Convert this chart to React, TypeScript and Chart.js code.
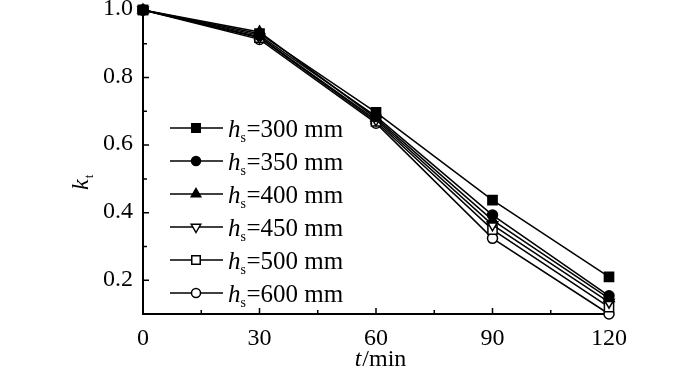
import React, { useEffect, useRef } from "react";
import { Chart, registerables } from "chart.js";

Chart.register(...registerables);

const times = [0, 30, 60, 90, 120];
const labels = ["300", "350", "400", "450", "500", "600"];
const s300 = [1.0, 0.93, 0.697, 0.437, 0.21];
const s350 = [1.0, 0.925, 0.685, 0.393, 0.154];
const s400 = [1.0, 0.935, 0.68, 0.378, 0.146];
const s450 = [1.0, 0.92, 0.675, 0.364, 0.135];
const s500 = [1.0, 0.918, 0.67, 0.35, 0.12];
const s600 = [1.0, 0.913, 0.665, 0.324, 0.1];
const yTicks = [0.2, 0.4, 0.6, 0.8, 1.0];
const yMinor = [0.3, 0.5, 0.7, 0.9];
const xTicks = [0, 30, 60, 90, 120];
const xMinor = [15, 45, 75, 105];

const FONT = "'Liberation Serif', 'Times New Roman', serif";

const markers = [
  { style: "rect", fill: "#000", radius: 6.5, rotation: 0 },
  { style: "circle", fill: "#000", radius: 5, rotation: 0 },
  { style: "triangle", fill: "#000", radius: 6, rotation: 0 },
  { style: "triangle", fill: "#fff", radius: 6, rotation: 180 },
  { style: "rect", fill: "#fff", radius: 6.5, rotation: 0 },
  { style: "circle", fill: "#fff", radius: 5, rotation: 0 },
];

const series = [s300, s350, s400, s450, s500, s600];

function drawPointLocal(ctx: CanvasRenderingContext2D, m: any, x: number, y: number) {
  const r = m.radius;
  ctx.beginPath();
  if (m.style === "circle") {
    ctx.arc(x, y, r, 0, Math.PI * 2);
  } else if (m.style === "rect") {
    const s = r * Math.SQRT1_2;
    ctx.rect(x - s, y - s, 2 * s, 2 * s);
  } else {
    const dir = m.rotation === 180 ? -1 : 1;
    ctx.moveTo(x, y - dir * r);
    ctx.lineTo(x + r * 0.866, y + dir * r * 0.5);
    ctx.lineTo(x - r * 0.866, y + dir * r * 0.5);
    ctx.closePath();
  }
  ctx.fill();
  ctx.stroke();
}

const axesPlugin = {
  id: "axesPlugin",
  beforeDatasetsDraw(chart: any) {
    const ctx = chart.ctx;
    const { left, right, top, bottom } = chart.chartArea;
    const xs = chart.scales.x;
    const ys = chart.scales.y;
    ctx.save();
    ctx.strokeStyle = "#000";
    ctx.lineWidth = 2;
    ctx.beginPath();
    ctx.moveTo(left, top - 2);
    ctx.lineTo(left, bottom);
    ctx.lineTo(right + 2, bottom);
    ctx.stroke();
    ctx.lineWidth = 1.5;
    ctx.beginPath();
    yTicks.forEach((v) => {
      const y = ys.getPixelForValue(v);
      ctx.moveTo(left, y);
      ctx.lineTo(left + 6, y);
    });
    yMinor.forEach((v) => {
      const y = ys.getPixelForValue(v);
      ctx.moveTo(left, y);
      ctx.lineTo(left + 4, y);
    });
    xTicks.forEach((v) => {
      const x = xs.getPixelForValue(v);
      ctx.moveTo(x, bottom);
      ctx.lineTo(x, bottom - 6);
    });
    xMinor.forEach((v) => {
      const x = xs.getPixelForValue(v);
      ctx.moveTo(x, bottom);
      ctx.lineTo(x, bottom - 4);
    });
    ctx.stroke();

    // tick labels
    ctx.fillStyle = "#000";
    ctx.font = `24px ${FONT}`;
    ctx.textAlign = "right";
    ctx.textBaseline = "middle";
    yTicks.forEach((v) => {
      ctx.fillText(v.toFixed(1), left - 10, ys.getPixelForValue(v) - 1);
    });
    ctx.textAlign = "center";
    ctx.textBaseline = "alphabetic";
    xTicks.forEach((v) => {
      ctx.fillText(String(v), xs.getPixelForValue(v), 345);
    });
    ctx.restore();
  },
  afterDraw(chart: any) {
    const ctx = chart.ctx;
    const { left, right, top, bottom } = chart.chartArea;
    ctx.save();
    ctx.fillStyle = "#000";
    ctx.textBaseline = "alphabetic";
    ctx.textAlign = "left";
    // x title
    const xt1 = "t";
    const xt2 = "/min";
    ctx.font = `italic 24px ${FONT}`;
    const w1 = ctx.measureText(xt1).width;
    ctx.font = `24px ${FONT}`;
    const w2 = ctx.measureText(xt2).width;
    const cx = (left + right) / 2 + 4 - (w1 + w2) / 2;
    ctx.font = `italic 24px ${FONT}`;
    ctx.fillText(xt1, cx, 366);
    ctx.font = `24px ${FONT}`;
    ctx.fillText(xt2, cx + w1 + 1, 366);
    // y title
    ctx.translate(88, 190);
    ctx.rotate(-Math.PI / 2);
    ctx.font = `italic 24px ${FONT}`;
    const kw = ctx.measureText("k").width;
    ctx.fillText("k", 0, 0);
    ctx.font = `13px ${FONT}`;
    ctx.fillText("t", kw + 1, 5);
    ctx.restore();

    // legend
    ctx.save();
    ctx.textAlign = "left";
    ctx.textBaseline = "alphabetic";
    const ly0 = 128;
    const dy = 33;
    for (let i = 0; i < 6; i++) {
      const y = ly0 + i * dy;
      ctx.strokeStyle = "#000";
      ctx.lineWidth = 1.5;
      ctx.beginPath();
      ctx.moveTo(170, y);
      ctx.lineTo(223, y);
      ctx.stroke();
      const m = markers[i];
      ctx.fillStyle = m.fill;
      drawPointLocal(ctx, { ...m, radius: m.radius - 0.5 }, 196, y);
      ctx.fillStyle = "#000";
      ctx.font = `italic 25px ${FONT}`;
      const hx = 228;
      ctx.fillText("h", hx, y + 9);
      const hw = ctx.measureText("h").width;
      ctx.font = `14px ${FONT}`;
      ctx.fillText("s", hx + hw, y + 14);
      ctx.font = `25px ${FONT}`;
      ctx.fillText(`=${labels[i]} mm`, hx + hw + 6, y + 9);
    }
    ctx.restore();
  },
};

export default function App() {
  const ref = useRef<HTMLCanvasElement>(null);
  useEffect(() => {
    if (!ref.current) return;
    const chart = new Chart(ref.current, {
      type: "line",
      data: {
        datasets: series.map((s, i) => ({
          label: `hs=${labels[i]} mm`,
          data: s.map((v, j) => ({ x: times[j], y: v })),
          borderColor: "#000",
          borderWidth: 1.5,
          pointStyle: markers[i].style as any,
          pointRotation: markers[i].rotation,
          pointRadius: markers[i].radius,
          pointBackgroundColor: markers[i].fill,
          pointBorderColor: "#000",
          pointBorderWidth: 1.5,
          fill: false,
          tension: 0,
          clip: false as any,
        })),
      },
      options: {
        responsive: false,
        animation: false,
        events: [],
        layout: { padding: { top: 10, right: 91, left: 0, bottom: 0 } },
        plugins: { legend: { display: false }, tooltip: { enabled: false } },
        scales: {
          x: {
            type: "linear",
            min: 0,
            max: 120,
            grid: { display: false },
            border: { display: false },
            ticks: { display: false },
            afterFit: (s: any) => {
              s.height = 56;
            },
          },
          y: {
            type: "linear",
            min: 0.1,
            max: 1.0,
            grid: { display: false },
            border: { display: false },
            ticks: { display: false },
            afterFit: (s: any) => {
              s.width = 143;
            },
          },
        },
      },
      plugins: [axesPlugin],
    });
    return () => chart.destroy();
  }, []);
  return (
    <div style={{ position: "fixed", left: 0, top: 0, width: 700, height: 370, background: "#fff" }}>
      <canvas ref={ref} width={700} height={370} style={{ width: 700, height: 370 }} />
    </div>
  );
}
